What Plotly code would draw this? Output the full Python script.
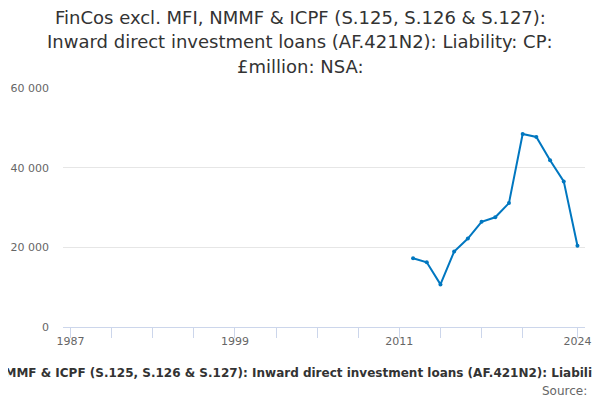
import plotly.graph_objects as go

years = [2012, 2013, 2014, 2015, 2016, 2017, 2018, 2019, 2020, 2021, 2022, 2023, 2024]
values = [17250, 16250, 10700, 18950, 22200, 26400, 27550, 31100, 48450, 47700, 41850, 36550, 20400]

tick_years = [1987, 1990, 1993, 1996, 1999, 2002, 2005, 2008, 2011, 2014, 2017, 2020, 2024]
tick_labels = ["1987", "", "", "", "1999", "", "", "", "2011", "", "", "", "2024"]

title_lines = ["FinCos excl. MFI, NMMF & ICPF (S.125, S.126 & S.127):",
               "Inward direct investment loans (AF.421N2): Liability: CP:",
               "£million: NSA:"]
axis_title = ("FinCos excl. MFI, NMMF & ICPF (S.125, S.126 & S.127): Inward direct "
              "investment loans (AF.421N2): Liability: CP: £million: NSA:")

fig = go.Figure()
fig.add_trace(go.Scatter(
    x=years, y=values, mode="lines+markers",
    line=dict(color="#0077c0", width=2),
    marker=dict(color="#0077c0", size=4),
    showlegend=False,
))

# page has an 8px body margin; plot area on the page: x 63..585, y 88..327
annots = []
for i, line in enumerate(title_lines):
    annots.append(dict(text=line, xref="paper", yref="paper", x=(300 - 63) / 522,
                       y=(327 - (17 + 24.5 * i)) / 239, xanchor="center", yanchor="middle",
                       showarrow=False,
                       font=dict(family="DejaVu Sans", size=18, color="#333333")))
annots.append(dict(text=axis_title, xref="paper", yref="paper", x=(306 - 63) / 522,
                   y=(327 - 373) / 239, xanchor="center", yanchor="middle", showarrow=False,
                   font=dict(family="DejaVu Sans", size=12, color="#333333", weight="bold")))
annots.append(dict(text="Source:", xref="paper", yref="paper", x=(589 - 63) / 522,
                   y=(327 - 391) / 239, xanchor="right", yanchor="middle", showarrow=False,
                   font=dict(family="DejaVu Sans", size=12, color="#666666")))

fig.update_layout(
    width=600, height=400,
    paper_bgcolor="white", plot_bgcolor="white",
    margin=dict(l=55, r=23, t=80, b=81, autoexpand=False),
    separators=". ",
    font=dict(family="DejaVu Sans", color="#666666"),
    annotations=annots,
)
fig.update_xaxes(
    range=[1986.45, 2024.55], tickmode="array", tickvals=tick_years, ticktext=tick_labels,
    ticks="outside", ticklen=10, tickcolor="#ccd6eb", showline=True, linecolor="#ccd6eb",
    showgrid=False, zeroline=False, automargin=False, ticklabelstandoff=-6,
    tickfont=dict(size=11, color="#666666"),
)
fig.update_yaxes(
    range=[0, 60000], tickvals=[0, 20000, 40000, 60000], tickformat=",d",
    showgrid=True, gridcolor="#e6e6e6", zeroline=False, showline=False, automargin=False,
    ticks="", ticklabelstandoff=13, tickfont=dict(size=11, color="#666666"),
)

fig.write_html("out.html")
